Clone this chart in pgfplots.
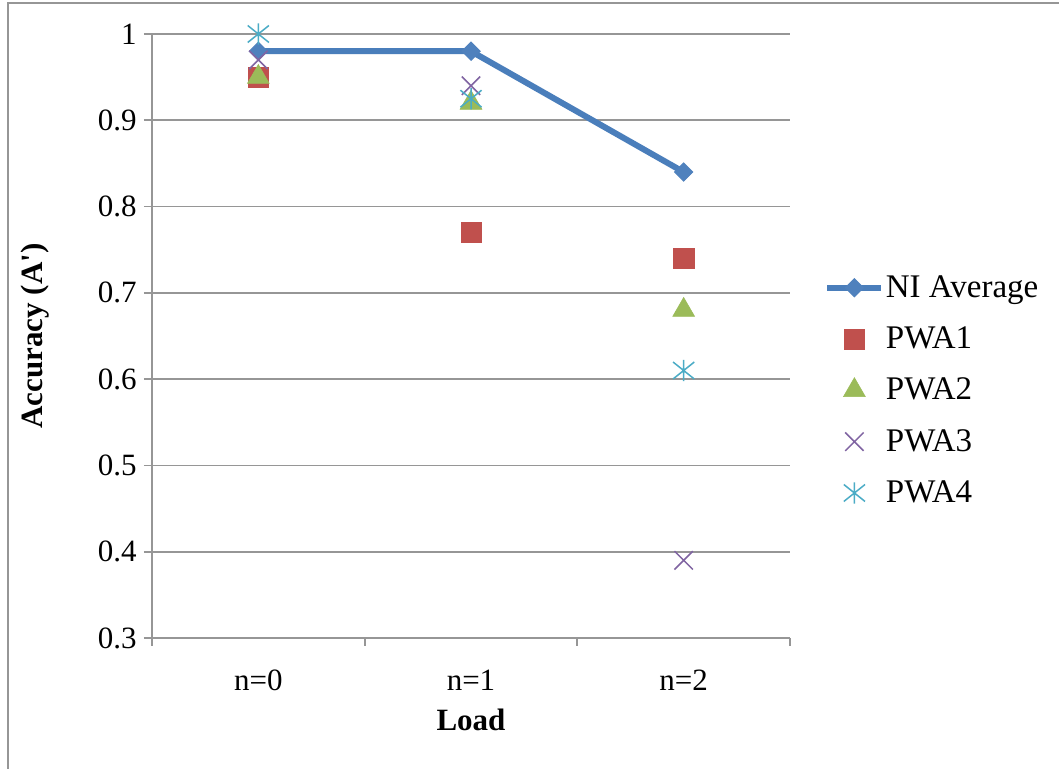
\documentclass[border=0pt]{standalone}
\usepackage{pgfplots}
\pgfplotsset{compat=1.18}
\usepackage{fontspec}
\setmainfont{Liberation Serif}
\definecolor{niblue}{HTML}{4A7EBB}
\definecolor{nifill}{HTML}{4F81BD}
\definecolor{pred}{HTML}{C0504D}
\definecolor{pgreen}{HTML}{9BBB59}
\definecolor{ppurple}{HTML}{8064A2}
\definecolor{pcyan}{HTML}{4BACC6}
\definecolor{gridgray}{RGB}{150,150,150}
\definecolor{framegray}{RGB}{150,150,150}
\newcommand{\fs}{\rmfamily\fontsize{15.5}{18}\selectfont}
\newcommand{\fl}{\rmfamily\fontsize{16.5}{19}\selectfont}
\pgfdeclareplotmark{xstar}{%
  \pgfpathmoveto{\pgfqpoint{0pt}{\pgfplotmarksize}}%
  \pgfpathlineto{\pgfqpoint{0pt}{-\pgfplotmarksize}}%
  \pgfpathmoveto{\pgfqpoint{-\pgfplotmarksize}{-0.8\pgfplotmarksize}}%
  \pgfpathlineto{\pgfqpoint{\pgfplotmarksize}{0.8\pgfplotmarksize}}%
  \pgfpathmoveto{\pgfqpoint{-\pgfplotmarksize}{0.8\pgfplotmarksize}}%
  \pgfpathlineto{\pgfqpoint{\pgfplotmarksize}{-0.8\pgfplotmarksize}}%
  \pgfusepathqstroke}
\pgfdeclareplotmark{bigx}{%
  \pgfpathmoveto{\pgfqpoint{-\pgfplotmarksize}{-\pgfplotmarksize}}%
  \pgfpathlineto{\pgfqpoint{\pgfplotmarksize}{\pgfplotmarksize}}%
  \pgfpathmoveto{\pgfqpoint{-\pgfplotmarksize}{\pgfplotmarksize}}%
  \pgfpathlineto{\pgfqpoint{\pgfplotmarksize}{-\pgfplotmarksize}}%
  \pgfusepathqstroke}
\begin{document}
\begin{tikzpicture}
\useasboundingbox (0,0) rectangle (529.5pt,384.5pt);
\clip (0,0) rectangle (529.5pt,384.5pt);
\fill[white] (0,0) rectangle (529.5pt,384.5pt);
\draw[line width=1pt, color=framegray] (4pt,-10pt) rectangle (540pt,383pt);
\begin{axis}[
  at={(76pt,65.5pt)}, anchor=south west,
  scale only axis, width=319pt, height=302pt,
  xmin=-0.5, xmax=2.5, ymin=0.3, ymax=1,
  axis lines*=left,
  axis line style={draw=gridgray, line width=0.9pt},
  tick align=outside,
  major tick length=4pt,
  tick style={draw=gridgray, line width=0.9pt},
  xtick={-0.5,0.5,1.5,2.5}, xticklabels={},
  extra x ticks={0,1,2},
  extra x tick labels={n=0,n=1,n=2},
  extra x tick style={major tick length=0pt, grid=none,
    xticklabel style={anchor=base, yshift=-26.5pt}},
  ytick={0.3,0.4,0.5,0.6,0.7,0.8,0.9,1},
  ymajorgrids,
  major grid style={draw=gridgray, line width=0.9pt},
  yticklabel style={anchor=east, inner sep=0pt, xshift=-3.5pt},
  tick label style={font=\fs},
  /pgf/number format/assume math mode=true,
  xlabel={Load}, ylabel={Accuracy (A\textquotesingle)},
  label style={font=\fs\bfseries},
  xlabel style={at={(axis description cs:0.5,-0.136)}, anchor=center},
  ylabel style={at={(axis description cs:-0.183,0.5)}, anchor=center, rotate=0},
  legend style={draw=none, fill=none, font=\fl, inner sep=0pt,
    at={(axis description cs:1.0533,0.410)}, anchor=west,
    row sep=11.75pt, nodes={inner sep=0.75pt}},
  legend cell align=left,
  legend image code/.code={%
    \draw[mark repeat=2,mark phase=2] plot coordinates {(0pt,0pt) (13.5pt,0pt) (27pt,0pt)};},
]
\addplot[color=niblue, line width=3pt, mark=square*, mark size=3.2pt,
  mark options={rotate=45, fill=nifill, draw=nifill, line width=0.5pt}]
  coordinates {(0,0.98) (1,0.98) (2,0.84)};
\addlegendentry{NI Average}
\addplot[only marks, mark=square*, mark size=5.1pt,
  mark options={fill=pred, draw=pred, line width=0.3pt}]
  coordinates {(0,0.95) (1,0.77) (2,0.74)};
\addlegendentry{PWA1}
\addplot[only marks, mark=triangle*, mark size=6.3pt,
  mark options={fill=pgreen, draw=pgreen, line width=0.3pt}]
  coordinates {(0,0.95) (1,0.92) (2,0.68)};
\addlegendentry{PWA2}
\addplot[only marks, mark=bigx, mark size=4.6pt,
  mark options={draw=ppurple, line width=0.75pt}]
  coordinates {(0,0.97) (1,0.94) (2,0.39)};
\addlegendentry{PWA3}
\addplot[only marks, mark=xstar, mark size=5.3pt,
  mark options={draw=pcyan, line width=0.75pt}]
  coordinates {(0,1.00) (1,0.925) (2,0.61)};
\addlegendentry{PWA4}
\end{axis}
\end{tikzpicture}
\end{document}
